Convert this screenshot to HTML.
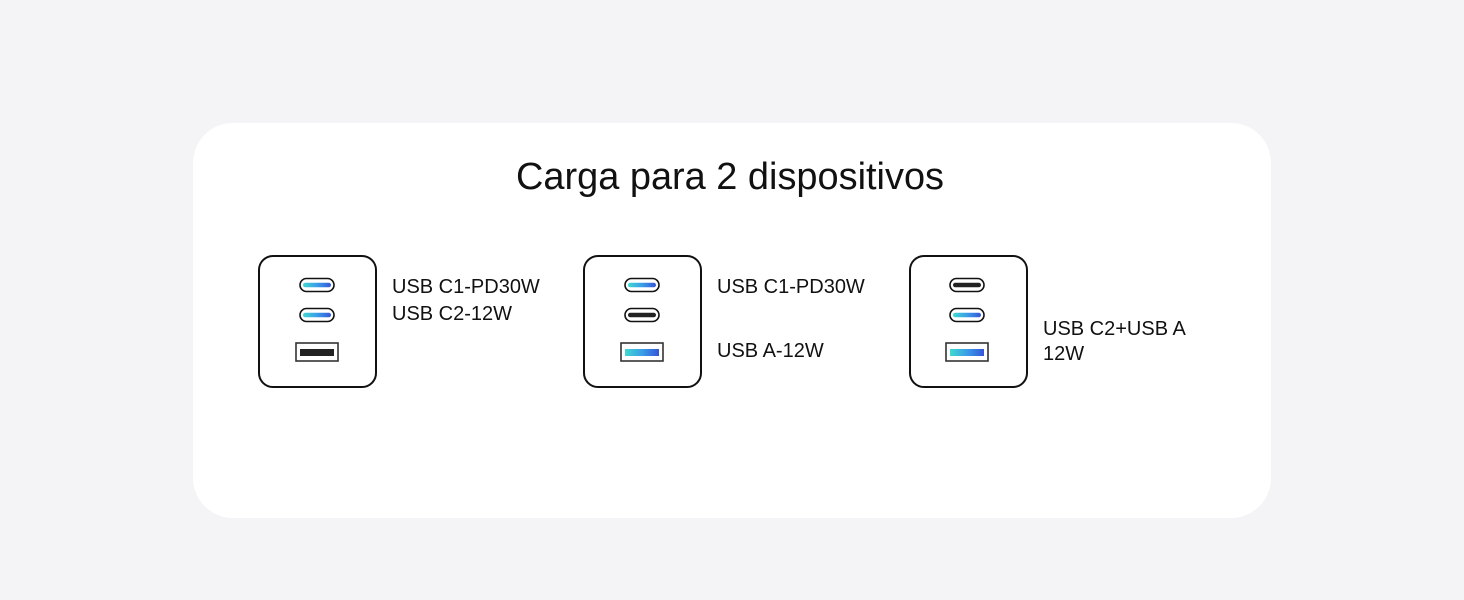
<!DOCTYPE html>
<html><head><meta charset="utf-8"><style>
html,body{margin:0;padding:0;background:#f4f4f6;}
body{width:1464px;height:600px;position:relative;overflow:hidden;font-family:"Liberation Sans",sans-serif;}
</style></head><body>
<svg width="1464" height="600" xmlns="http://www.w3.org/2000/svg" style="position:absolute;left:0;top:0">
<defs>
<linearGradient id="g" x1="0" x2="1" y1="0" y2="0">
<stop offset="0" stop-color="#3fd9d0"/><stop offset="0.5" stop-color="#3a9ee8"/><stop offset="1" stop-color="#3556d8"/>
</linearGradient>
<g id="cA"><rect x="-17" y="-6.5" width="34" height="13" rx="6.5" fill="#fff" stroke="#111" stroke-width="1.6"/><rect x="-14" y="-2.3" width="28" height="4.6" rx="2.3" fill="url(#g)"/></g>
<g id="cI"><rect x="-17" y="-6.5" width="34" height="13" rx="6.5" fill="#fff" stroke="#111" stroke-width="1.6"/><rect x="-14" y="-2.3" width="28" height="4.6" rx="2.3" fill="#222"/></g>
<g id="aA"><rect x="-21" y="-9" width="42" height="18" fill="#fff" stroke="#333" stroke-width="1.6"/><rect x="-17" y="-3" width="34" height="7" fill="url(#g)"/></g>
<g id="aI"><rect x="-21" y="-9" width="42" height="18" fill="#fff" stroke="#333" stroke-width="1.6"/><rect x="-17" y="-3" width="34" height="7" fill="#222"/></g>
</defs>
<rect x="193" y="123" width="1078" height="395" rx="40" fill="#fff"/>
<text x="730" y="189" text-anchor="middle" font-size="38" fill="#111" textLength="428" lengthAdjust="spacingAndGlyphs">Carga para 2 dispositivos</text>

<rect x="259" y="256" width="117" height="131" rx="14" fill="#fff" stroke="#111" stroke-width="2"/>
<use href="#cA" x="317" y="285"/><use href="#cA" x="317" y="315"/><use href="#aI" x="317" y="352"/>
<text x="392" y="293" font-size="20" fill="#111">USB C1-PD30W</text>
<text x="392" y="320" font-size="20" fill="#111">USB C2-12W</text>

<rect x="584" y="256" width="117" height="131" rx="14" fill="#fff" stroke="#111" stroke-width="2"/>
<use href="#cA" x="642" y="285"/><use href="#cI" x="642" y="315"/><use href="#aA" x="642" y="352"/>
<text x="717" y="293" font-size="20" fill="#111">USB C1-PD30W</text>
<text x="717" y="357" font-size="20" fill="#111">USB A-12W</text>

<rect x="910" y="256" width="117" height="131" rx="14" fill="#fff" stroke="#111" stroke-width="2"/>
<use href="#cI" x="967" y="285"/><use href="#cA" x="967" y="315"/><use href="#aA" x="967" y="352"/>
<text x="1043" y="335" font-size="20" fill="#111">USB C2+USB A</text>
<text x="1043" y="360" font-size="20" fill="#111">12W</text>
</svg>
</body></html>
